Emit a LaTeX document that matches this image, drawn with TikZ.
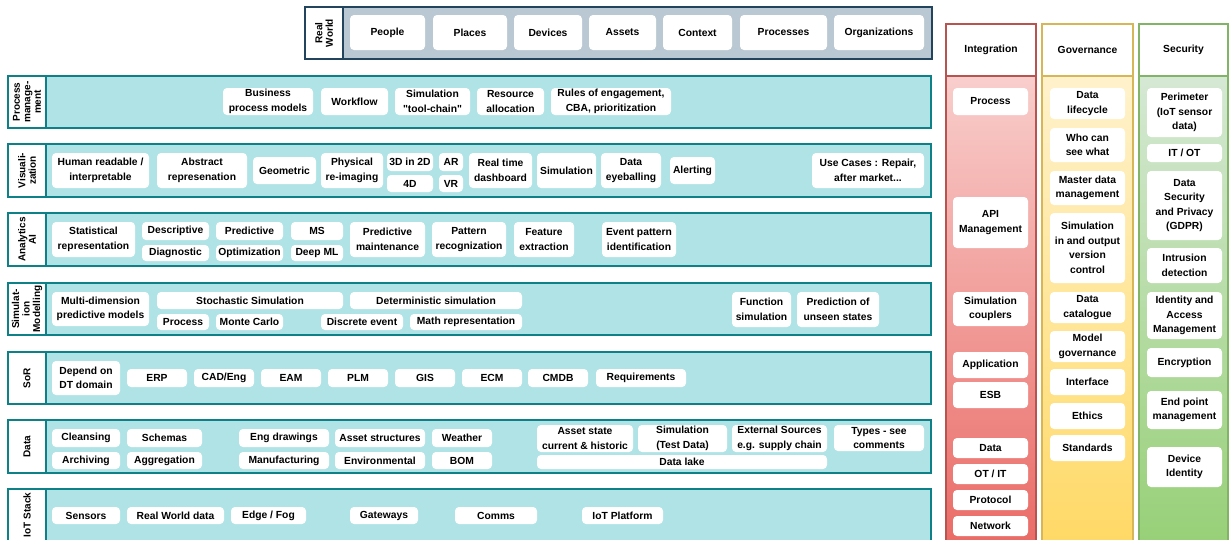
\documentclass[tikz,border=0pt]{standalone}
\usepackage{fontspec}
\setmainfont{Liberation Sans}[Ligatures=TeXOff]
\usepackage{tikz}
\definecolor{rowline}{HTML}{0E8088}
\definecolor{rowfill}{HTML}{B0E3E6}
\definecolor{rwline}{HTML}{23445D}
\definecolor{rwfill}{HTML}{BAC8D3}
\definecolor{intline}{HTML}{B85450}
\definecolor{inttop}{HTML}{F8CECC}
\definecolor{intbot}{HTML}{EA6B66}
\definecolor{govline}{HTML}{D6B656}
\definecolor{govtop}{HTML}{FFF2CC}
\definecolor{govbot}{HTML}{FFD966}
\definecolor{secline}{HTML}{82B366}
\definecolor{sectop}{HTML}{D5E8D4}
\definecolor{secbot}{HTML}{97D077}

\begin{document}
\begin{tikzpicture}[x=1pt, y=-1pt,
        every node/.style={font=\bfseries\fontsize{10.3}{14.5}\selectfont, align=center, inner sep=0pt},
        tile/.style 2 args={fill=white, rounded corners=4pt, minimum width=#1pt, minimum height=#2pt},
        band/.style={draw=rowline, fill=rowfill, line width=1.5pt},
        bandtag/.style={draw=rowline, fill=white, line width=1.5pt},
        tag/.style={rotate=90, font=\bfseries\fontsize{10}{10.5}\selectfont}]
        \useasboundingbox (0,0) rectangle (1229,539);
        \clip (0,0) rectangle (1229,539);

        % layer bands
        \draw [draw=rwline, fill=rwfill, line width=1.5pt] (305,7) rectangle (932,59);
        \draw [draw=rwline, fill=white, line width=1.5pt] (305,7) rectangle (343,59);
        \draw [band] (8,76) rectangle (931,128);
        \draw [bandtag] (8,76) rectangle (46,128);
        \draw [band] (8,144) rectangle (931,197);
        \draw [bandtag] (8,144) rectangle (46,197);
        \draw [band] (8,213) rectangle (931,266);
        \draw [bandtag] (8,213) rectangle (46,266);
        \draw [band] (8,283) rectangle (931,335);
        \draw [bandtag] (8,283) rectangle (46,335);
        \draw [band] (8,352) rectangle (931,404);
        \draw [bandtag] (8,352) rectangle (46,404);
        \draw [band] (8,420) rectangle (931,473);
        \draw [bandtag] (8,420) rectangle (46,473);
        \draw [band] (8,489) rectangle (931,541);
        \draw [bandtag] (8,489) rectangle (46,541);

        % cross-cutting columns
        \draw [draw=intline, top color=inttop, bottom color=intbot, line width=1.5pt] (946,76) rectangle (1036,545);
        \draw [draw=intline, fill=white, line width=1.5pt] (946,24) rectangle (1036,76);
        \draw [draw=govline, top color=govtop, bottom color=govbot, line width=1.5pt] (1042,76) rectangle (1133,545);
        \draw [draw=govline, fill=white, line width=1.5pt] (1042,24) rectangle (1133,76);
        \draw [draw=secline, top color=sectop, bottom color=secbot, line width=1.5pt] (1139,76) rectangle (1228,545);
        \draw [draw=secline, fill=white, line width=1.5pt] (1139,24) rectangle (1228,76);

        % band labels
        \node (lrw) [tag] at (324,33) {Real\\World};
        \node (lpm) [tag] at (27,102) {Process\\manage-\\ment};
        \node (lvz) [tag] at (27,170.5) {Visuali-\\zation};
        \node (lan) [tag] at (27,239.5) {Analytics\\AI};
        \node (lsm) [tag] at (27,309) {Simulat-\\ion\\Modelling};
        \node (lsr) [tag] at (27,378) {SoR};
        \node (ldt) [tag] at (27,446.5) {Data};
        \node (lio) [tag] at (27,515) {IoT Stack};
        \node (hig) at (991,50) {Integration};
        \node (hgv) at (1087.5,50) {Governance};
        \node (hsc) at (1183.5,50) {Security};

        % real world
        \node (rw0) [tile={75}{35}] at (387.5,32.5) {People};
        \node (rw1) [tile={74}{35}] at (470,32.5) {Places};
        \node (rw2) [tile={68}{35}] at (548,32.5) {Devices};
        \node (rw3) [tile={67}{35}] at (622.5,32.5) {Assets};
        \node (rw4) [tile={69}{35}] at (697.5,32.5) {Context};
        \node (rw5) [tile={87}{35}] at (783.5,32.5) {Processes};
        \node (rw6) [tile={90}{35}] at (879,32.5) {Organizations};

        % process management
        \node (pm0) [tile={90}{27}] at (268,101.5) {Business\\process models};
        \node (pm1) [tile={67}{27}] at (354.5,101.5) {Workflow};
        \node (pm2) [tile={75}{27}] at (432.5,101.5) {Simulation\\"tool-chain"};
        \node (pm3) [tile={67}{27}] at (510.5,101.5) {Resource\\allocation};
        \node (pm4) [tile={120}{27}] at (611,101.5) {Rules of engagement,\\CBA, prioritization};

        % visualization
        \node (vz0) [tile={97}{35}] at (100.5,170.5) {Human readable /\\interpretable};
        \node (vz1) [tile={90}{35}] at (202,170.5) {Abstract\\represenation};
        \node (vz2) [tile={63}{27}] at (284.5,170.5) {Geometric};
        \node (vz3) [tile={62}{35}] at (352,170.5) {Physical\\re-imaging};
        \node (vz4) [tile={46}{18}] at (410,162) {3D in 2D};
        \node (vz5) [tile={46}{17}] at (410,183.5) {4D};
        \node (vz6) [tile={24}{18}] at (451,162) {AR};
        \node (vz7) [tile={24}{17}] at (451,183.5) {VR};
        \node (vz8) [tile={63}{35}] at (500.5,170.5) {Real time\\dashboard};
        \node (vz9) [tile={59}{35}] at (566.5,170.5) {Simulation};
        \node (vz10) [tile={60}{35}] at (631,170.5) {Data\\eyeballing};
        \node (vz11) [tile={45}{27}] at (692.5,170.5) {Alerting};
        \node (vz12) [tile={112}{35}] at (868,170.5) {Use Cases : Repair,\\after market...};

        % analytics
        \node (an0) [tile={83}{35}] at (93.5,239.5) {Statistical\\representation};
        \node (an1) [tile={67}{18}] at (175.5,231) {Descriptive};
        \node (an2) [tile={67}{16}] at (175.5,253) {Diagnostic};
        \node (an3) [tile={67}{18}] at (249.5,231) {Predictive};
        \node (an4) [tile={67}{16}] at (249.5,253) {Optimization};
        \node (an5) [tile={52}{18}] at (317,231) {MS};
        \node (an6) [tile={52}{16}] at (317,253) {Deep ML};
        \node (an7) [tile={75}{35}] at (387.5,239.5) {Predictive\\maintenance};
        \node (an8) [tile={74}{35}] at (469,239.5) {Pattern\\recognization};
        \node (an9) [tile={60}{35}] at (544,239.5) {Feature\\extraction};
        \node (an10) [tile={74}{35}] at (639,239.5) {Event pattern\\identification};

        % simulation and modelling
        \node (sm0) [tile={97}{34}] at (100.5,309) {Multi-dimension\\predictive models};
        \node (sm1) [tile={186}{17}] at (250,300.5) {Stochastic Simulation};
        \node (sm2) [tile={52}{16}] at (183,322) {Process};
        \node (sm3) [tile={67}{16}] at (249.5,322) {Monte Carlo};
        \node (sm4) [tile={172}{17}] at (436,300.5) {Deterministic simulation};
        \node (sm5) [tile={82}{16}] at (362,322) {Discrete event};
        \node (sm6) [tile={112}{16}] at (466,322) {Math representation};
        \node (sm7) [tile={59}{35}] at (761.5,309.5) {Function\\simulation};
        \node (sm8) [tile={82}{35}] at (838,309.5) {Prediction of\\unseen states};

        % systems of record
        \node (sr0) [tile={68}{34}] at (86,378) {Depend on\\DT domain};
        \node (sr1) [tile={60}{18}] at (157,378) {ERP};
        \node (sr2) [tile={60}{18}] at (224,378) {CAD/Eng};
        \node (sr3) [tile={60}{18}] at (291,378) {EAM};
        \node (sr4) [tile={60}{18}] at (358,378) {PLM};
        \node (sr5) [tile={60}{18}] at (425,378) {GIS};
        \node (sr6) [tile={60}{18}] at (492,378) {ECM};
        \node (sr7) [tile={60}{18}] at (558,378) {CMDB};
        \node (sr8) [tile={90}{18}] at (641,378) {Requirements};

        % data
        \node (dt0) [tile={68}{18}] at (86,438) {Cleansing};
        \node (dt1) [tile={68}{17}] at (86,460.5) {Archiving};
        \node (dt2) [tile={75}{18}] at (164.5,438) {Schemas};
        \node (dt3) [tile={75}{17}] at (164.5,460.5) {Aggregation};
        \node (dt4) [tile={90}{18}] at (284,438) {Eng drawings};
        \node (dt5) [tile={90}{17}] at (284,460.5) {Manufacturing};
        \node (dt6) [tile={90}{18}] at (380,438) {Asset structures};
        \node (dt7) [tile={90}{17}] at (380,460.5) {Environmental};
        \node (dt8) [tile={60}{18}] at (462,438) {Weather};
        \node (dt9) [tile={60}{17}] at (462,460.5) {BOM};
        \node (dt10) [tile={96}{27}] at (585,438.5) {Asset state\\current \& historic};
        \node (dt11) [tile={89}{27}] at (682.5,438.5) {Simulation\\(Test Data)};
        \node (dt12) [tile={95}{27}] at (779.5,438.5) {External Sources\\e.g. supply chain};
        \node (dt13) [tile={90}{26}] at (879,438) {Types - see\\comments};
        \node (dt14) [tile={290}{14}] at (682,462) {Data lake};

        % iot stack
        \node (io0) [tile={68}{17}] at (86,515.5) {Sensors};
        \node (io1) [tile={97}{17}] at (175.5,515.5) {Real World data};
        \node (io2) [tile={75}{17}] at (268.5,515.5) {Edge / Fog};
        \node (io3) [tile={68}{17}] at (384,515.5) {Gateways};
        \node (io4) [tile={82}{17}] at (496,515.5) {Comms};
        \node (io5) [tile={81}{17}] at (622.5,515.5) {IoT Platform};

        % integration
        \node (ig0) [tile={75}{27}] at (990.5,101.5) {Process};
        \node (ig1) [tile={75}{51}] at (990.5,222.5) {API\\Management};
        \node (ig2) [tile={75}{34}] at (990.5,309) {Simulation\\couplers};
        \node (ig3) [tile={75}{26}] at (990.5,365) {Application};
        \node (ig4) [tile={75}{26}] at (990.5,395) {ESB};
        \node (ig5) [tile={75}{20}] at (990.5,448) {Data};
        \node (ig6) [tile={75}{20}] at (990.5,474) {OT / IT};
        \node (ig7) [tile={75}{20}] at (990.5,500) {Protocol};
        \node (ig8) [tile={75}{20}] at (990.5,526) {Network};

        % governance
        \node (gv0) [tile={75}{31}] at (1087.5,103.5) {Data\\lifecycle};
        \node (gv1) [tile={75}{34}] at (1087.5,145) {Who can\\see what};
        \node (gv2) [tile={75}{34}] at (1087.5,188) {Master data\\management};
        \node (gv3) [tile={75}{70}] at (1087.5,248) {Simulation\\in and output\\version\\control};
        \node (gv4) [tile={75}{31}] at (1087.5,307.5) {Data\\catalogue};
        \node (gv5) [tile={75}{31}] at (1087.5,346.5) {Model\\governance};
        \node (gv6) [tile={75}{26}] at (1087.5,382) {Interface};
        \node (gv7) [tile={75}{26}] at (1087.5,416) {Ethics};
        \node (gv8) [tile={75}{26}] at (1087.5,448) {Standards};

        % security
        \node (sc0) [tile={75}{49}] at (1184.5,112.5) {Perimeter\\(IoT sensor\\data)};
        \node (sc1) [tile={75}{18}] at (1184.5,153) {IT / OT};
        \node (sc2) [tile={75}{69}] at (1184.5,205.5) {Data\\Security\\and Privacy\\(GDPR)};
        \node (sc3) [tile={75}{35}] at (1184.5,265.5) {Intrusion\\detection};
        \node (sc4) [tile={75}{47}] at (1184.5,315.5) {Identity and\\Access\\Management};
        \node (sc5) [tile={75}{29}] at (1184.5,362.5) {Encryption};
        \node (sc6) [tile={75}{38}] at (1184.5,410) {End point\\management};
        \node (sc7) [tile={75}{40}] at (1184.5,467) {Device\\Identity};
\end{tikzpicture}
\end{document}
